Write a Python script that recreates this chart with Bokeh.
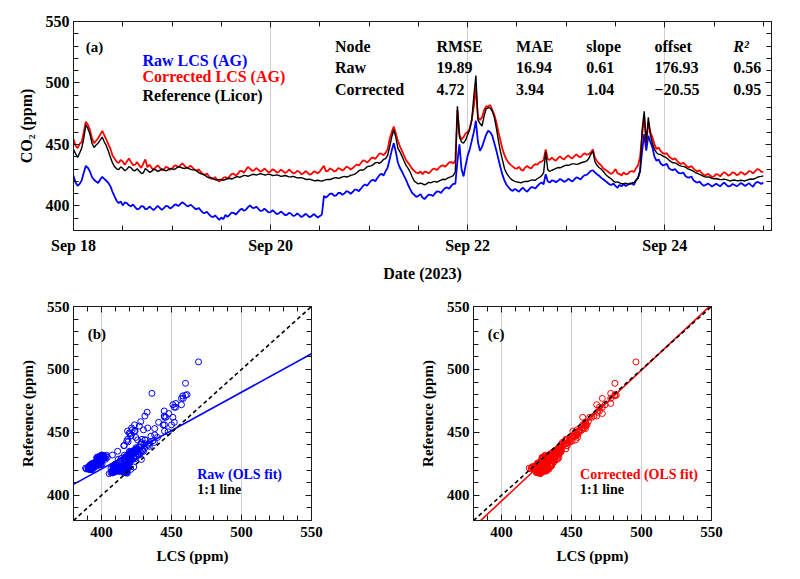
import pandas as pd
from bokeh.plotting import figure
from bokeh.layouts import column, row
from bokeh.models import (Range1d, FixedTicker, LinearAxis, DatetimeAxis,
                          DatetimeTickFormatter, Label)
from bokeh.embed import file_html
from bokeh.resources import INLINE

# ---------------------------------------------------------------- data
# Half-hourly CO2 readings (ppm), Sep 18 00:00 .. Sep 25 00:00
START = pd.Timestamp("2023-09-18 00:00")
STEP = pd.Timedelta(minutes=30)

reference = [
    446.0, 442.5, 439.5, 443.0, 447.0, 455.0, 466.0, 463.0, 458.5, 451.0,
    447.5, 449.5, 451.0, 453.5, 456.0, 452.0, 449.0, 444.5, 439.5, 435.0,
    432.0, 430.2, 429.5, 431.8, 430.5, 428.6, 429.8, 432.0, 431.2, 429.0,
    428.6, 430.2, 428.4, 426.5, 426.8, 430.5, 429.0, 427.4, 428.0, 429.8,
    429.5, 428.0, 428.8, 430.1, 429.4, 428.5, 429.2, 430.4, 430.3, 429.6,
    430.6, 431.9, 431.6, 430.8, 430.4, 431.2, 430.5, 429.7, 429.3, 429.4,
    428.5, 427.1, 426.2, 425.8, 424.9, 423.6, 422.8, 422.9, 422.2, 421.3,
    421.0, 421.6, 421.4, 420.9, 421.5, 422.3, 422.5, 421.9, 422.6, 423.5,
    423.8, 423.2, 424.0, 424.8, 424.6, 424.1, 424.8, 425.5, 425.7, 425.1,
    425.6, 426.2, 425.9, 425.2, 425.4, 425.8, 425.4, 424.7, 424.8, 425.3,
    424.8, 424.0, 424.3, 424.7, 424.3, 423.6, 423.7, 424.0, 423.5, 422.8,
    422.9, 423.0, 422.4, 421.7, 421.5, 421.8, 421.3, 420.6, 420.5, 420.9,
    420.5, 420.3, 420.8, 421.4, 421.6, 421.5, 422.1, 422.8, 422.9, 422.4,
    422.9, 423.6, 424.0, 423.5, 424.0, 424.9, 425.2, 425.8, 427.0, 428.6,
    429.3, 429.0, 430.2, 431.8, 432.3, 432.6, 433.6, 435.0, 435.4, 434.6,
    435.8, 437.8, 438.5, 441.0, 448.0, 456.0, 462.0, 456.0, 447.0, 444.0,
    440.5, 436.5, 433.0, 430.5, 427.5, 423.5, 420.2, 419.0, 417.9, 418.6,
    418.0, 417.2, 417.9, 419.2, 418.8, 419.5, 420.0, 419.3, 420.2, 421.0,
    421.7, 421.3, 422.4, 423.2, 423.8, 424.6, 428.0, 481.0, 456.0, 452.0,
    451.0, 453.5, 458.0, 462.0, 470.0, 489.0, 506.0, 470.0, 467.0, 465.0,
    473.0, 479.0, 480.0, 479.5, 477.0, 472.0, 463.0, 453.0, 444.0, 437.0,
    430.0, 426.5, 424.0, 422.0, 420.8, 420.0, 419.5, 419.2, 418.8, 419.6,
    420.0, 419.8, 420.4, 421.0, 421.1, 420.8, 422.3, 423.2, 424.5, 427.0,
    444.0, 429.5, 428.0, 429.0, 429.7, 430.5, 431.2, 431.0, 431.8, 432.6,
    433.2, 433.0, 433.6, 434.2, 434.2, 433.8, 434.1, 434.9, 435.5, 435.9,
    436.6, 438.5, 442.0, 444.5, 436.0, 433.0, 431.3, 430.0, 428.2, 426.0,
    424.3, 423.0, 421.9, 420.2, 419.1, 419.5, 418.7, 418.0, 418.0, 418.4,
    417.9, 417.6, 418.6, 419.0, 420.6, 422.5, 428.5, 462.0, 477.0, 451.0,
    472.0, 458.0, 450.5, 446.0, 443.3, 442.0, 441.8, 440.6, 439.8, 438.9,
    437.4, 436.0, 435.1, 435.0, 434.2, 433.0, 432.4, 432.2, 431.5, 430.4,
    429.7, 429.0, 428.2, 427.0, 426.4, 425.6, 424.9, 424.0, 423.4, 423.6,
    423.3, 422.5, 422.1, 422.3, 421.9, 421.4, 421.5, 421.8, 421.4, 420.8,
    420.2, 420.9, 421.1, 420.6, 420.5, 420.9, 420.6, 420.3, 421.0, 421.5,
    421.9, 421.7, 422.3, 423.2, 423.8, 424.0, 424.4,
]

corrected = [
    454.4, 449.0, 447.0, 450.5, 452.0, 460.0, 468.5, 466.0, 462.0, 455.0,
    451.0, 453.0, 455.0, 458.0, 461.0, 457.5, 454.0, 450.0, 446.5, 441.0,
    438.5, 436.0, 434.8, 437.5, 436.0, 433.4, 436.2, 438.5, 435.8, 433.2,
    433.5, 435.6, 433.0, 431.0, 434.4, 437.8, 431.4, 433.5, 431.2, 429.3,
    431.4, 433.0, 431.2, 429.0, 429.5, 431.8, 431.2, 429.4, 430.2, 432.5,
    433.0, 431.3, 433.0, 434.6, 432.9, 431.0, 431.4, 432.8, 431.1, 429.5,
    428.6, 429.8, 427.6, 425.9, 425.3, 426.4, 424.0, 422.3, 422.0, 423.4,
    421.3, 419.8, 421.2, 422.9, 423.5, 422.0, 424.0, 425.8, 426.2, 424.6,
    426.0, 428.3, 428.4, 427.0, 429.5, 431.6, 430.3, 428.6, 429.0, 430.8,
    429.5, 427.8, 428.7, 430.4, 428.9, 427.2, 428.1, 429.9, 428.9, 427.0,
    427.6, 429.5, 428.4, 426.8, 427.6, 429.6, 428.1, 426.4, 426.8, 428.6,
    427.6, 425.9, 426.5, 428.4, 427.0, 425.5, 426.0, 428.0, 427.6, 426.4,
    428.1, 430.5, 432.6, 428.0, 428.7, 430.6, 429.5, 428.0, 428.7, 430.9,
    430.0, 428.7, 430.0, 432.1, 431.1, 429.6, 430.8, 432.4, 433.8, 432.8,
    434.9, 437.0, 436.6, 435.2, 436.8, 439.0, 439.3, 438.2, 440.4, 442.6,
    442.5, 441.2, 443.1, 446.0, 454.4, 460.0, 464.5, 459.0, 453.0, 448.5,
    444.8, 441.0, 437.2, 435.0, 432.6, 430.0, 428.5, 427.0, 426.6, 428.0,
    425.8, 427.9, 427.6, 426.5, 428.1, 430.0, 430.3, 429.2, 430.9, 432.6,
    433.0, 431.8, 433.6, 435.4, 435.7, 434.6, 437.0, 478.0, 458.0, 454.0,
    456.0, 459.0, 460.0, 463.0, 470.0, 481.0, 496.0, 472.0, 470.0, 472.0,
    478.0, 481.0, 481.0, 482.0, 478.0, 474.0, 468.0, 460.0, 453.0, 446.0,
    441.0, 437.5, 435.0, 433.4, 432.0, 430.6, 430.4, 431.8, 429.5, 428.6,
    431.2, 432.4, 431.1, 430.5, 432.8, 433.9, 433.6, 435.5, 436.0, 437.5,
    446.0, 438.0, 437.4, 439.2, 437.6, 436.8, 438.9, 440.3, 438.6, 437.8,
    439.8, 441.1, 439.4, 438.7, 440.6, 441.9, 440.3, 439.6, 441.6, 442.8,
    441.6, 442.2, 443.5, 446.0, 439.0, 436.5, 434.5, 433.0, 430.7, 429.4,
    428.4, 427.0, 426.0, 427.5, 430.0, 426.5, 426.0, 424.8, 427.3, 425.6,
    426.0, 427.8, 428.4, 427.6, 430.7, 433.0, 440.0, 458.0, 472.0, 451.0,
    468.0, 460.0, 455.7, 450.0, 446.2, 447.5, 444.7, 443.0, 442.3, 442.9,
    440.4, 439.0, 437.7, 438.8, 436.6, 435.0, 434.1, 435.2, 433.6, 432.0,
    431.4, 432.5, 430.3, 428.9, 428.1, 429.0, 426.8, 425.3, 424.9, 426.2,
    424.9, 423.5, 424.1, 425.8, 425.4, 424.0, 426.0, 427.5, 426.2, 424.6,
    425.4, 427.2, 426.8, 425.0, 425.7, 427.6, 426.8, 425.3, 426.5, 428.4,
    427.9, 426.4, 428.1, 430.0, 429.5, 427.8, 427.6,
]

raw = [
    424.5, 419.0, 416.3, 418.0, 420.8, 427.0, 432.6, 431.0, 428.0, 423.5,
    421.3, 419.8, 418.6, 421.5, 423.6, 422.0, 420.5, 418.6, 415.9, 411.5,
    407.8, 404.2, 402.3, 403.6, 400.4, 402.8, 402.3, 400.5, 399.6, 401.2,
    399.0, 397.2, 397.7, 399.8, 399.6, 397.4, 397.7, 399.5, 398.0, 396.6,
    398.2, 400.0, 398.5, 396.8, 398.2, 400.1, 399.6, 397.9, 398.8, 400.6,
    401.2, 399.8, 401.5, 403.0, 401.8, 400.2, 399.6, 401.0, 399.6, 398.0,
    397.2, 398.4, 396.3, 394.6, 394.2, 395.3, 393.1, 391.5, 390.9, 392.3,
    390.4, 388.6, 390.6, 389.2, 392.8, 391.0, 392.8, 394.5, 394.4, 393.0,
    394.7, 396.6, 397.7, 396.0, 396.9, 399.0, 400.4, 398.6, 398.2, 399.4,
    397.7, 395.9, 396.1, 397.8, 396.3, 394.8, 395.0, 396.5, 395.0, 393.4,
    393.9, 395.4, 394.2, 392.6, 392.8, 394.3, 393.6, 391.8, 392.3, 393.9,
    392.5, 390.9, 392.0, 393.6, 392.3, 390.8, 391.7, 393.4, 392.0, 390.6,
    391.7, 393.0, 408.2, 406.8, 408.3, 410.0, 409.9, 408.2, 408.6, 410.6,
    410.5, 409.0, 410.2, 412.0, 411.3, 409.9, 411.3, 413.2, 413.2, 412.0,
    414.0, 416.2, 417.5, 416.4, 418.6, 420.6, 421.3, 420.0, 422.7, 425.0,
    426.2, 424.6, 428.1, 431.0, 438.0, 445.0, 451.0, 444.0, 435.3, 431.0,
    428.0, 424.5, 421.2, 417.0, 413.6, 410.5, 409.0, 407.4, 408.2, 409.6,
    406.8, 405.5, 407.6, 409.2, 409.0, 408.0, 410.1, 411.8, 411.7, 410.6,
    412.8, 414.4, 415.0, 414.0, 416.3, 418.0, 418.0, 436.0, 450.0, 430.0,
    424.0, 433.0, 440.8, 446.0, 453.0, 460.0, 469.3, 452.0, 444.8, 448.0,
    453.0, 458.0, 461.1, 460.0, 457.1, 451.0, 444.8, 438.0, 431.3, 425.0,
    420.4, 417.0, 415.0, 413.0, 412.2, 413.8, 412.8, 411.5, 413.6, 414.8,
    412.8, 411.6, 413.6, 415.2, 415.0, 414.2, 416.3, 418.0, 419.0, 417.6,
    425.8, 420.0, 419.0, 420.8, 420.4, 419.2, 420.4, 421.9, 420.9, 419.6,
    420.4, 422.0, 420.9, 419.8, 421.7, 423.2, 422.6, 421.5, 423.6, 425.0,
    425.3, 426.8, 428.5, 429.0, 427.2, 425.8, 424.5, 423.0, 421.7, 420.4,
    419.0, 417.6, 417.1, 418.2, 416.3, 414.8, 417.1, 415.9, 417.7, 416.2,
    417.1, 418.4, 418.2, 417.0, 420.9, 423.0, 428.5, 445.0, 458.4, 445.0,
    457.1, 452.0, 447.6, 440.0, 436.7, 437.8, 434.5, 433.0, 433.4, 434.2,
    430.7, 429.5, 429.1, 430.0, 428.0, 426.6, 426.4, 427.2, 424.5, 423.2,
    423.1, 423.9, 420.9, 419.6, 419.0, 419.8, 417.7, 416.4, 417.1, 418.3,
    417.1, 415.8, 416.9, 418.0, 417.1, 415.9, 417.7, 419.0, 417.1, 415.8,
    416.3, 417.8, 417.1, 415.9, 417.1, 418.6, 417.7, 416.3, 417.1, 418.5,
    416.9, 415.6, 418.2, 419.6, 419.0, 417.8, 419.0,
]

stat_names = ["RMSE", "MAE", "slope", "offset", "R²"]
raw_stats = [19.89, 16.94, 0.61, 176.93, 0.56]
corrected_stats = [4.72, 3.94, 1.04, -20.55, 0.95]

date_ticks_h = [0, 48, 96, 144]
ppm_ticks = [400, 450, 500, 550]

# ---------------------------------------------------------------- style
FONT = "Liberation Serif"
BLUE = "#0000ff"
RED = "#ff0000"
INK = "#1a1a1a"


def ms(h):
    return (START + pd.Timedelta(hours=h)).value / 1e6


def stamps(series):
    return [START + i * STEP for i in range(len(series))]


def fmt(v):
    return f"{v:.2f}".replace("-", "\u2212")


def style_axis(ax, size, labels=True):
    ax.axis_line_color = INK
    ax.major_tick_line_color = INK
    ax.minor_tick_line_color = INK
    ax.major_tick_in = 6
    ax.major_tick_out = 0
    ax.minor_tick_in = 5
    ax.minor_tick_out = 0
    ax.major_label_text_font = FONT
    ax.major_label_text_font_style = "bold"
    ax.major_label_text_font_size = size
    ax.major_label_text_color = "black"
    ax.axis_label_text_font = FONT
    ax.axis_label_text_font_style = "bold"
    ax.axis_label_text_font_size = size
    ax.axis_label_text_color = "black"
    ax.major_label_standoff = 4
    ax.axis_label_standoff = 8
    if not labels:
        # mirror axis: ticks only
        ax.major_label_text_color = None
        ax.major_label_text_font_size = "1px"
        ax.major_label_standoff = 0
        ax.axis_label = None


def label(fig, x, y, text, size, color="black", style="bold"):
    fig.add_layout(Label(x=x, y=y, text=text, text_font=FONT,
                         text_font_style=style, text_font_size=size,
                         text_color=color, text_baseline="alphabetic",
                         text_align="left"))


# ---------------------------------------------------------------- (a) time series
x_major = FixedTicker(ticks=[ms(h) for h in date_ticks_h],
                      minor_ticks=[ms(h) for h in range(0, 170, 12)])
y_major = FixedTicker(ticks=ppm_ticks, minor_ticks=list(range(380, 551, 10)))
date_fmt = DatetimeTickFormatter(days="%b %d", months="%b %d", hours="%b %d",
                                 hourmin="%b %d", minutes="%b %d")

pa = figure(x_axis_type="datetime", frame_width=698, frame_height=209,
            min_border_left=73, min_border_right=29, min_border_top=21,
            min_border_bottom=60, x_range=Range1d(ms(0), ms(170)),
            y_range=Range1d(380, 550), output_backend="svg",
            toolbar_location=None, background_fill_color="white",
            border_fill_color="white", outline_line_color=INK)

pa.xaxis.ticker = x_major
pa.xaxis.formatter = date_fmt
pa.yaxis.ticker = y_major
pa.xaxis.axis_label = "Date (2023)"
pa.yaxis.axis_label = "CO\u2082 (ppm)"
style_axis(pa.xaxis[0], "16px")
style_axis(pa.yaxis[0], "16px")
pa.xaxis.major_label_standoff = 6

top_ax = DatetimeAxis(ticker=x_major, formatter=date_fmt)
style_axis(top_ax, "16px", labels=False)
pa.add_layout(top_ax, "above")
right_ax = LinearAxis(ticker=y_major)
style_axis(right_ax, "16px", labels=False)
pa.add_layout(right_ax, "right")

pa.xgrid.ticker = FixedTicker(ticks=[ms(h) for h in date_ticks_h])
pa.xgrid.grid_line_color = "#cfcfcf"
pa.xgrid.grid_line_width = 1
pa.ygrid.grid_line_color = None

pa.line(stamps(raw), raw, color=BLUE, line_width=1.8)
pa.line(stamps(corrected), corrected, color=RED, line_width=1.8)
pa.line(stamps(reference), reference, color="black", line_width=1.4)

label(pa, ms(2.97), 529.4, "(a)", "15px")
label(pa, ms(16.8), 518.6, "Raw LCS (AG)", "16px", BLUE)
label(pa, ms(16.8), 505.0, "Corrected LCS (AG)", "16px", RED)
label(pa, ms(16.8), 490.1, "Reference (Licor)", "16px")

col_h = [88.4, 107.8, 124.9, 141.5, 160.7]
row_y = [529.6, 512.5, 494.9]
label(pa, ms(63.7), row_y[0], "Node", "16px")
label(pa, ms(63.7), row_y[1], "Raw", "16px")
label(pa, ms(63.7), row_y[2], "Corrected", "16px")
for h, name, rv, cv in zip(col_h, stat_names, raw_stats, corrected_stats):
    label(pa, ms(h), row_y[0], name, "16px",
          style="bold italic" if name == "R²" else "bold")
    label(pa, ms(h), row_y[1], fmt(rv), "16px")
    label(pa, ms(h), row_y[2], fmt(cv), "16px")


# ---------------------------------------------------------------- (b), (c) scatter
def scatter_panel(lcs, color, stats, tag, fit_text, text_x):
    slope, offset = stats[2], stats[3]
    f = figure(frame_width=238, frame_height=214, min_border_left=73,
               min_border_right=89, min_border_top=16, min_border_bottom=59,
               x_range=Range1d(380, 550), y_range=Range1d(380, 550),
               output_backend="svg", toolbar_location=None,
               background_fill_color="white", border_fill_color="white",
               outline_line_color=INK)
    tick = FixedTicker(ticks=ppm_ticks, minor_ticks=list(range(380, 551, 10)))
    f.xaxis.ticker = tick
    f.yaxis.ticker = tick
    f.xaxis.axis_label = "LCS (ppm)"
    f.yaxis.axis_label = "Reference (ppm)"
    style_axis(f.xaxis[0], "15px")
    style_axis(f.yaxis[0], "15px")
    f.xaxis.major_label_standoff = 6
    ta = LinearAxis(ticker=tick)
    style_axis(ta, "15px", labels=False)
    f.add_layout(ta, "above")
    ra = LinearAxis(ticker=tick)
    style_axis(ra, "15px", labels=False)
    f.add_layout(ra, "right")
    f.xgrid.ticker = FixedTicker(ticks=ppm_ticks)
    f.xgrid.grid_line_color = "#cfcfcf"
    f.ygrid.grid_line_color = None

    n = min(len(lcs), len(reference))
    f.scatter(lcs[:n], reference[:n], marker="circle", size=6,
              fill_color=None, line_color=color, line_width=1)
    xs = [380, 550]
    f.line(xs, [slope * x + offset for x in xs], color=color, line_width=1.6)
    f.line(xs, xs, color="black", line_width=1.6, line_dash="4 3")

    label(f, 390.2, 528.1, tag, "15px")
    label(f, text_x, 416.3, fit_text, "14px", color)
    label(f, text_x, 404.6, "1:1 line", "14px")
    return f


pb = scatter_panel(raw, BLUE, raw_stats, "(b)", "Raw (OLS fit)", 468.4)
pc = scatter_panel(corrected, RED, corrected_stats, "(c)",
                   "Corrected (OLS fit)", 456.1)

layout = column(pa, row(pb, pc))
open("out.html", "w").write(file_html(layout, INLINE))
